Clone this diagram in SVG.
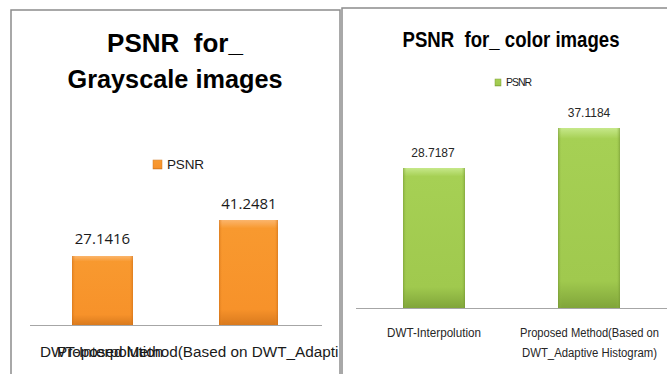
<svg xmlns="http://www.w3.org/2000/svg" width="667" height="374" viewBox="0 0 667 374">
<style>
.frame{fill:#ffffff;stroke:#8c8c8c;stroke-width:1.5}
.axis{stroke:#a6a6a6;stroke-width:1}
.t1{font-family:"Liberation Sans",Arial,sans-serif;font-weight:bold;fill:#000000;text-anchor:middle}
.lbl{font-family:"Open Sans","Liberation Sans",sans-serif;fill:#1a1a1a}
.cat{font-family:"Liberation Sans",Arial,sans-serif;fill:#1a1a1a}
.lbr{font-family:"Liberation Sans",Arial,sans-serif;fill:#262626;text-anchor:middle}
</style>
<defs>
<linearGradient id="orV" x1="0" y1="0" x2="0" y2="1">
<stop offset="0" stop-color="#fbb56c"/>
<stop offset="0.08" stop-color="#f8992f"/>
<stop offset="0.85" stop-color="#f7922a"/>
<stop offset="1" stop-color="#d97a1e"/>
</linearGradient>
<linearGradient id="orH" x1="0" y1="0" x2="1" y2="0">
<stop offset="0" stop-color="#c86a14" stop-opacity="0.6"/>
<stop offset="0.06" stop-color="#f7922a" stop-opacity="0"/>
<stop offset="0.94" stop-color="#f7922a" stop-opacity="0"/>
<stop offset="1" stop-color="#c86a14" stop-opacity="0.6"/>
</linearGradient>
<linearGradient id="grV" x1="0" y1="0" x2="0" y2="1">
<stop offset="0" stop-color="#c6e88a"/>
<stop offset="0.06" stop-color="#a6d054"/>
<stop offset="0.85" stop-color="#a0c94e"/>
<stop offset="1" stop-color="#80a53a"/>
</linearGradient>
<linearGradient id="grH" x1="0" y1="0" x2="1" y2="0">
<stop offset="0" stop-color="#6f9030" stop-opacity="0.6"/>
<stop offset="0.06" stop-color="#a0c94e" stop-opacity="0"/>
<stop offset="0.94" stop-color="#a0c94e" stop-opacity="0"/>
<stop offset="1" stop-color="#6f9030" stop-opacity="0.6"/>
</linearGradient>
<clipPath id="clipL"><rect x="11" y="10" width="327" height="364"/></clipPath>
</defs>

<g id="panel-grayscale">
<rect class="frame" x="11" y="10" width="329" height="372"/>
<text class="t1" x="175" y="52" font-size="26" xml:space="preserve">PSNR  for_</text>
<text class="t1" x="175" y="88" font-size="26" textLength="215" lengthAdjust="spacingAndGlyphs">Grayscale images</text>
<g id="legend-gray">
<rect x="153" y="160" width="9" height="9" fill="url(#orV)" stroke="#d07a20" stroke-width="0.5"/>
<text x="167" y="169" font-family="Liberation Sans,Arial,sans-serif" font-size="13.5" fill="#1a1a1a" textLength="37">PSNR</text>
</g>
<g id="bar-gray-dwt">
<rect x="72" y="256" width="61" height="69" fill="url(#orV)"/>
<rect x="72" y="256" width="61" height="69" fill="url(#orH)"/>
<text class="lbl" x="102.5" y="244" font-size="15" text-anchor="middle">27.1416</text>
</g>
<g id="bar-gray-proposed">
<rect x="219" y="220" width="59" height="105" fill="url(#orV)"/>
<rect x="219" y="220" width="59" height="105" fill="url(#orH)"/>
<text class="lbl" x="249" y="209" font-size="15" text-anchor="middle">41.2481</text>
</g>
<g id="cats-gray" clip-path="url(#clipL)">
<text class="cat" x="40" y="357" font-size="15.3">DWT-Interpolution</text>
<text class="cat" x="57" y="357" font-size="15.3">Proposed Method(Based on DWT_Adaptive Histogram)</text>
</g>
</g>

<g id="panel-color">
<rect class="frame" x="342" y="8" width="340" height="372"/>
<text class="t1" x="511" y="47" font-size="22" textLength="217" lengthAdjust="spacingAndGlyphs" xml:space="preserve">PSNR  for_ color images</text>
<g id="legend-color">
<rect x="495" y="79" width="6" height="7" fill="url(#grV)" stroke="#7f9e3a" stroke-width="0.5"/>
<text x="506" y="86" font-family="Liberation Sans,Arial,sans-serif" font-size="10.5" fill="#1a1a1a" textLength="26">PSNR</text>
</g>
<g id="bar-color-dwt">
<rect x="403" y="168" width="62" height="140" fill="url(#grV)"/>
<rect x="403" y="168" width="62" height="140" fill="url(#grH)"/>
<text class="lbr" x="433" y="157" font-size="12">28.7187</text>
</g>
<g id="bar-color-proposed">
<rect x="558" y="128" width="62" height="180" fill="url(#grV)"/>
<rect x="558" y="128" width="62" height="180" fill="url(#grH)"/>
<text class="lbr" x="589" y="117" font-size="12">37.1184</text>
</g>
<g id="cats-color">
<text class="lbr" x="434" y="337" font-size="12" textLength="94" lengthAdjust="spacingAndGlyphs">DWT-Interpolution</text>
<text class="lbr" x="589.5" y="337" font-size="12" textLength="139" lengthAdjust="spacingAndGlyphs">Proposed Method(Based on</text>
<text class="lbr" x="589.5" y="357" font-size="12" textLength="135" lengthAdjust="spacingAndGlyphs">DWT_Adaptive Histogram)</text>
</g>
</g>

<g id="connectors">
<line class="axis" x1="30" y1="325.5" x2="322" y2="325.5"/>
<line class="axis" x1="356" y1="308.5" x2="667" y2="308.5"/>
</g>
</svg>
